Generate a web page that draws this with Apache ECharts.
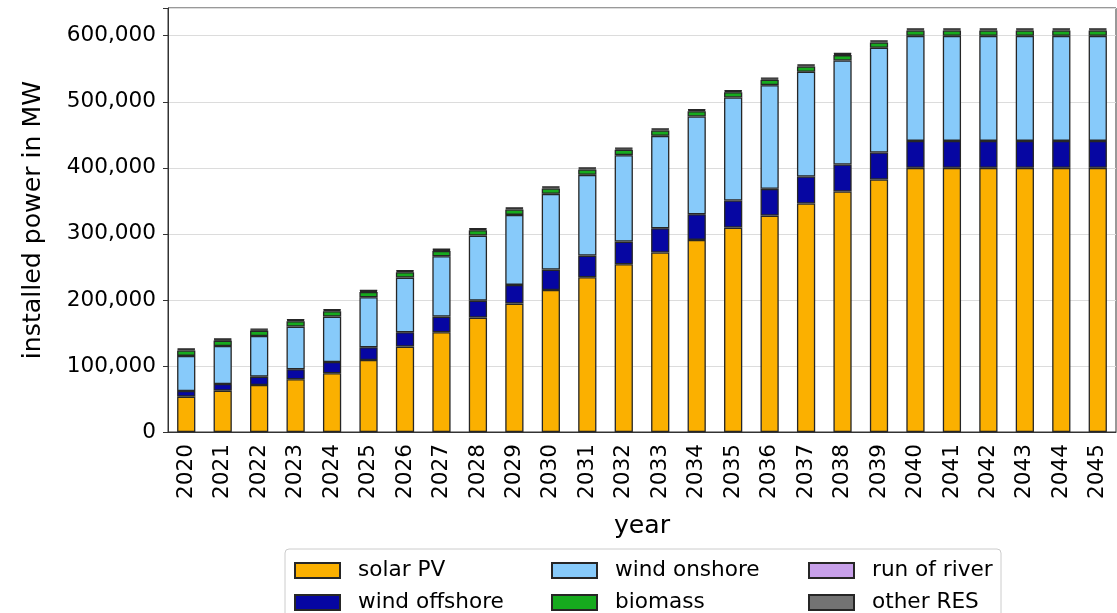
<!DOCTYPE html>
<html>
<head>
<meta charset="utf-8">
<script src="https://cdn.jsdelivr.net/npm/echarts@6/dist/echarts.min.js"></script>
<style>
  html, body { margin: 0; padding: 0; background: #fff; }
  #chart { width: 1117px; height: 613px; }
</style>
</head>
<body>
<div id="chart"></div>
<script>
const years = ['2020','2021','2022','2023','2024','2025','2026','2027','2028','2029','2030','2031','2032','2033','2034','2035','2036','2037','2038','2039','2040','2041','2042','2043','2044','2045'];
const solarPV = [53500, 62600, 71200, 79800, 88900, 109100, 129300, 151000, 173200, 194400, 215100, 234300, 254000, 271700, 290900, 309500, 327700, 345900, 364100, 382300, 400000, 400000, 400000, 400000, 400000, 400000];
const windOffshore = [8600, 10100, 12600, 15200, 17100, 19200, 21700, 23700, 25700, 28300, 30800, 32800, 34300, 36900, 38900, 41000, 40500, 40900, 40900, 40900, 40800, 40800, 40800, 40800, 40800, 40800];
const windOnshore = [53100, 57600, 61600, 64600, 68700, 75700, 82800, 91500, 98500, 106000, 114700, 122300, 130900, 139800, 147900, 156000, 157000, 158600, 157600, 158600, 159000, 159000, 159000, 159000, 159000, 159000];
const biomass = [8100, 8100, 8100, 8100, 8100, 8100, 8100, 8100, 8100, 8100, 8100, 8100, 8100, 8100, 8100, 8100, 8100, 8100, 8100, 8100, 8100, 8100, 8100, 8100, 8100, 8100];
const runOfRiver = [1800, 1800, 1800, 1800, 1800, 1800, 1800, 1800, 1800, 1800, 1800, 1800, 1800, 1800, 1800, 1800, 1800, 1800, 1800, 1800, 1800, 1800, 1800, 1800, 1800, 1800];
const otherRES = [1200, 1200, 1200, 1200, 1200, 1200, 1200, 1200, 1200, 1200, 1200, 1200, 1200, 1200, 1200, 1200, 1200, 1200, 1200, 1200, 1200, 1200, 1200, 1200, 1200, 1200];
const yTicks = [0, 100000, 200000, 300000, 400000, 500000, 600000];

const seriesDefs = [
  { name: 'solar PV', data: solarPV, color: '#FBB000' },
  { name: 'wind offshore', data: windOffshore, color: '#0606A2' },
  { name: 'wind onshore', data: windOnshore, color: '#87CAFA' },
  { name: 'biomass', data: biomass, color: '#16AA1E' },
  { name: 'run of river', data: runOfRiver, color: '#C8A0EA' },
  { name: 'other RES', data: otherRES, color: '#737373' }
];

// legend grid: [name, column, row]
const legendLayout = [
  ['solar PV', 0, 0], ['wind offshore', 0, 1],
  ['wind onshore', 1, 0], ['biomass', 1, 1],
  ['run of river', 2, 0], ['other RES', 2, 1]
];
const legendColX = [294, 551, 808];
const legendRowY = [559.5, 591.5];

const FONT = 'DejaVu Sans';
const chart = echarts.init(document.getElementById('chart'), null, { renderer: 'canvas' });

chart.setOption({
  animation: false,
  backgroundColor: '#fff',
  grid: { left: 168, top: 8, width: 948, height: 424, show: true, borderColor: '#333', borderWidth: 1, containLabel: false },
  graphic: [{
    type: 'rect', z: 0,
    shape: { x: 285, y: 549, width: 716, height: 80, r: 4 },
    style: { fill: '#fff', stroke: '#cccccc', lineWidth: 1 }
  }],
  legend: legendLayout.map(function (l) {
    return {
      data: [l[0]],
      left: legendColX[l[1]],
      top: legendRowY[l[2]],
      orient: 'horizontal',
      itemWidth: 45,
      itemHeight: 15,
      icon: 'rect',
      selectedMode: false,
      padding: 0,
      width: 250,
      textStyle: { fontFamily: FONT, fontSize: 21.6, color: '#000', padding: [0, 0, 0, 13] }
    };
  }),
  xAxis: {
    type: 'category',
    data: years,
    name: 'year',
    nameLocation: 'middle',
    nameGap: 82,
    nameTextStyle: { fontFamily: FONT, fontSize: 25.2, color: '#000' },
    axisLine: { lineStyle: { color: '#333', width: 1 } },
    axisTick: { alignWithLabel: true, length: 5, lineStyle: { color: '#333' } },
    axisLabel: { rotate: 90, margin: 12, fontFamily: FONT, fontSize: 21.6, color: '#000', interval: 0 }
  },
  yAxis: {
    type: 'value',
    min: 0,
    max: 642000,
    interval: 100000,
    name: 'installed power in MW',
    nameLocation: 'middle',
    nameGap: 122,
    nameTextStyle: { fontFamily: FONT, fontSize: 25.2, color: '#000' },
    axisLine: { show: true, lineStyle: { color: '#333', width: 1 } },
    axisTick: { show: true, length: 5, lineStyle: { color: '#333' } },
    splitLine: { show: true, lineStyle: { color: '#dcdcdc', width: 1 } },
    axisLabel: {
      margin: 12, fontFamily: FONT, fontSize: 21.6, color: '#000',
      formatter: function (v) { return yTicks.indexOf(v) >= 0 ? v.toLocaleString('en-US') : ''; }
    }
  },
  series: seriesDefs.map(function (s) {
    return {
      name: s.name,
      type: 'bar',
      stack: 'total',
      barWidth: '50%',
      data: s.data,
      itemStyle: { color: s.color, borderColor: '#262626', borderWidth: 1.3 }
    };
  })
});
</script>
</body>
</html>
